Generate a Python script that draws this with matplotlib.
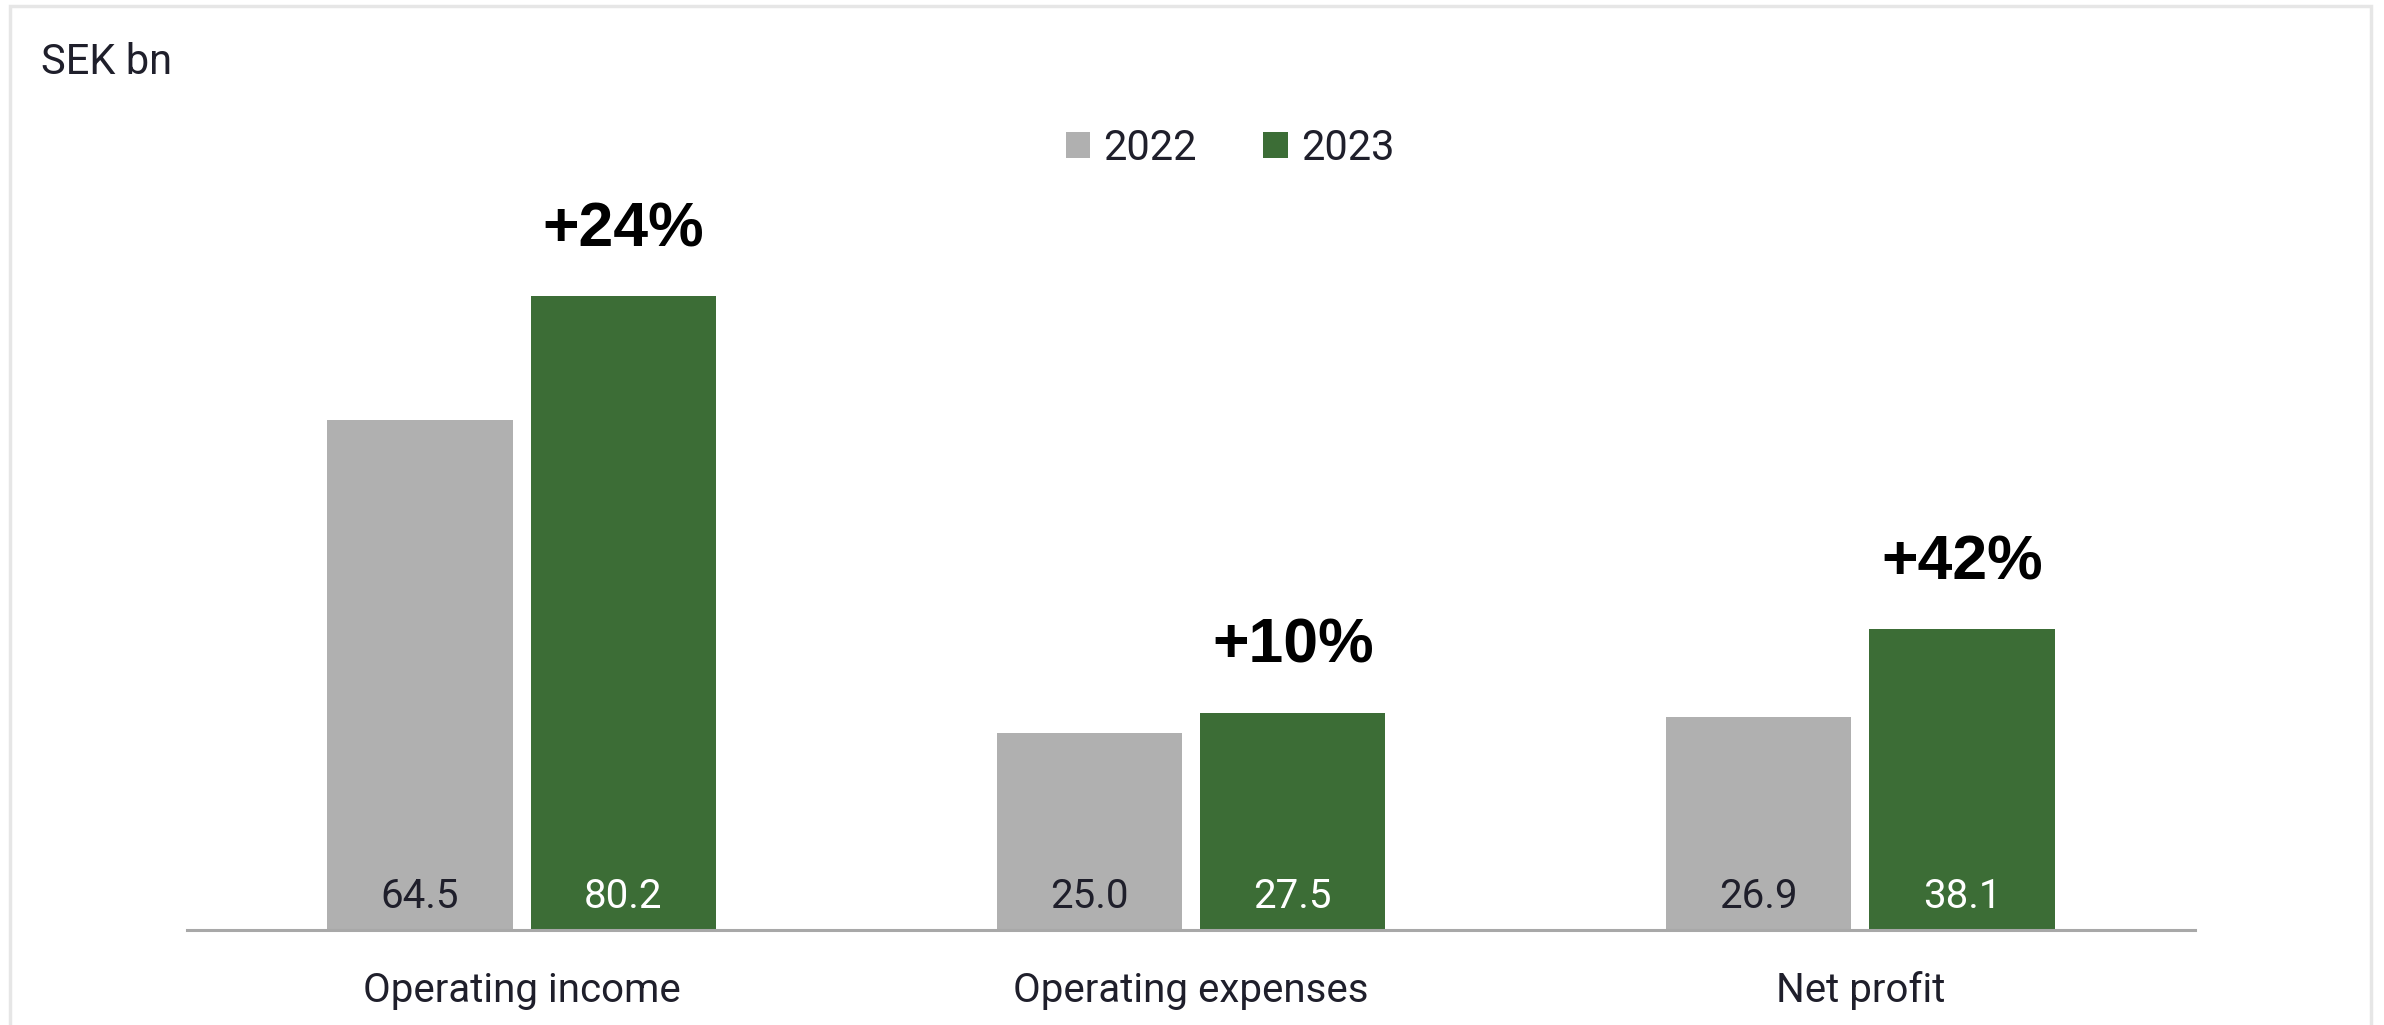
import matplotlib.pyplot as plt
import numpy as np
from matplotlib.patches import Rectangle

# Key figures, SEK bn
categories = ["Operating income", "Operating expenses", "Net profit"]
values_2022 = [64.5, 25.0, 26.9]
values_2023 = [80.2, 27.5, 38.1]
changes = ["+24%", "+10%", "+42%"]
years = ["2022", "2023"]

grey = "#b0b0b0"
green = "#3c6d36"
ink = "#1f1f2b"

plt.rcParams['font.family'] = ['Roboto', 'DejaVu Sans']

fig = plt.figure(figsize=(23.84, 10.25), dpi=100)
ax = fig.add_axes([187/2384, 1 - 930/1025, 2008/2384, 790/1025])

x = np.arange(len(categories))
width = 0.277
offset = 0.152

bars_a = ax.bar(x - offset, values_2022, width, color=grey, label=years[0])
bars_b = ax.bar(x + offset, values_2023, width, color=green, label=years[1])

# value labels sit inside the bars near the baseline
for bar, v in zip(bars_a, values_2022):
    ax.annotate(f"{v:.1f}", (bar.get_x() + bar.get_width()/2, 0), xytext=(0, 22),
                textcoords="offset pixels", ha="center", va="baseline",
                fontsize=29, color=ink)
for bar, v in zip(bars_b, values_2023):
    ax.annotate(f"{v:.1f}", (bar.get_x() + bar.get_width()/2, 0), xytext=(0, 22),
                textcoords="offset pixels", ha="center", va="baseline",
                fontsize=29, color="white")

# growth above the 2023 bars
for bar, v, c in zip(bars_b, values_2023, changes):
    ax.annotate(c, (bar.get_x() + bar.get_width()/2, v), xytext=(0, 50),
                textcoords="offset pixels", ha="center", va="baseline",
                fontsize=45, fontweight="bold", color="black",
                family=["Liberation Sans", "DejaVu Sans"])

# category names under the axis
for xi, name in zip(x, categories):
    ax.annotate(name, (xi, 0), xytext=(0, -72), textcoords="offset pixels",
                ha="center", va="baseline", fontsize=29, color=ink,
                annotation_clip=False)

ax.set_xlim(-0.5, 2.5)
ax.set_ylim(0, 100)
ax.set_xticks([])
ax.set_yticks([])
for s in ["top", "right", "left"]:
    ax.spines[s].set_visible(False)
ax.spines["bottom"].set_color("#a8a8a8")
ax.spines["bottom"].set_linewidth(2.2)

leg = ax.legend(loc="center", bbox_to_anchor=(1230/2384, 1 - 148/1025),
                bbox_transform=fig.transFigure, ncol=2, frameon=False,
                fontsize=30, handlelength=0.58, handleheight=0.58,
                handletextpad=0.32, columnspacing=1.6)
for t in leg.get_texts():
    t.set_color(ink)

fig.text(41/2384, 1 - 62/1025, "SEK bn", fontsize=30, color=ink,
         ha="left", va="center")

# light frame around the panel
fig.patches.append(Rectangle((10/2384, -0.05), 2361/2384, 1.05 - 6/1025,
                             transform=fig.transFigure, fill=False,
                             edgecolor="#e6e6e6", linewidth=2.5))

fig.savefig("out.png", dpi=100)
